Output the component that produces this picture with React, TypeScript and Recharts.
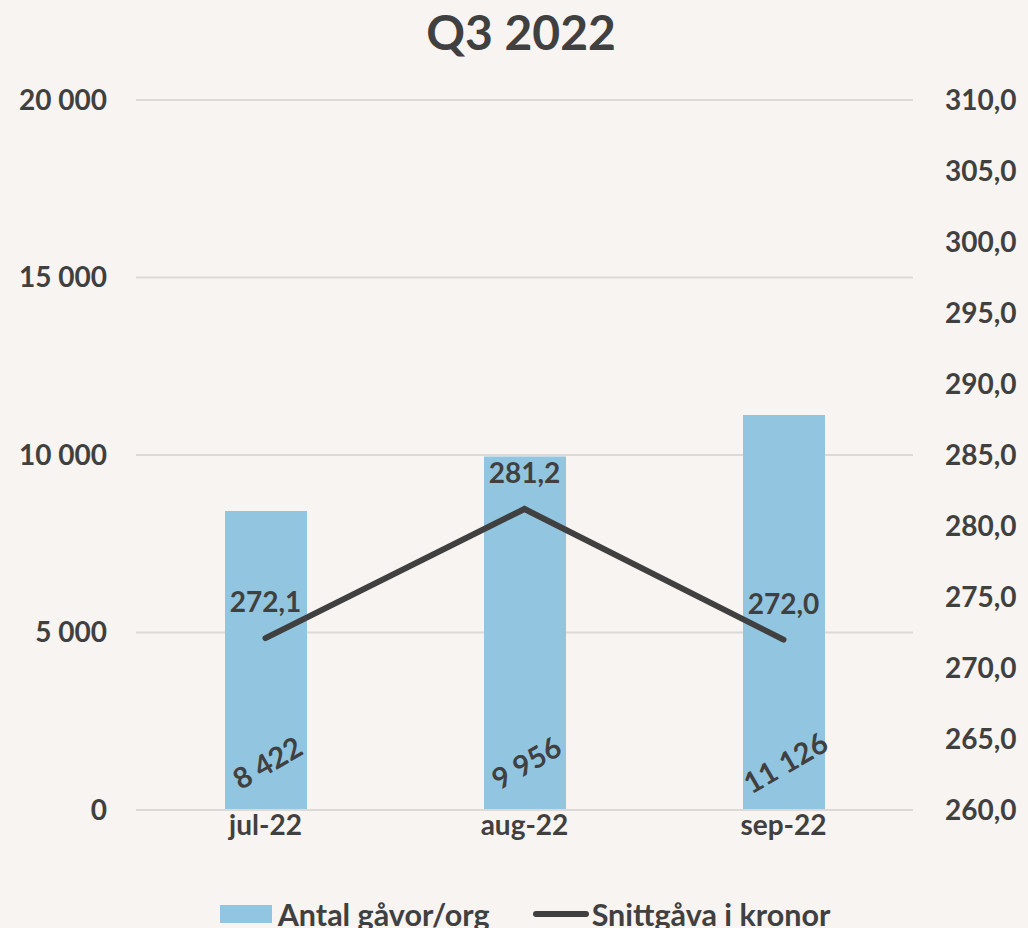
import { ComposedChart, Bar, Line, XAxis, YAxis, CartesianGrid, Legend, LabelList } from 'recharts'

const months = ['jul-22', 'aug-22', 'sep-22']
const antalGavor = [8422, 9956, 11126]
const snittgava = [272.1, 281.2, 272.0]
const leftTicks = [0, 5000, 10000, 15000, 20000]
const rightTicks = [260, 265, 270, 275, 280, 285, 290, 295, 300, 305, 310]

const BG = '#f7f4f1'
const BAR = '#92c5df'
const INK = '#404040'
const GRID = '#dcd9d6'
const FONT = 'Lato, "Open Sans", sans-serif'

const data = months.map((m, i) => ({ month: m, antal: antalGavor[i], snitt: snittgava[i] }))

const fmtThousands = (n: number) => String(Math.round(n)).replace(/\B(?=(\d{3})+(?!\d))/g, ' ')
const fmtDecimal = (n: number) => n.toFixed(1).replace('.', ',')

const BarValueLabel = (props: any) => {
  const { x, y, width, height, value } = props
  const cx = x + width / 2 + 1
  const cy = y + height - 48
  return (
    <text
      x={cx}
      y={cy}
      transform={`rotate(-30 ${cx} ${cy})`}
      textAnchor="middle"
      dominantBaseline="central"
      fill={INK}
      fontFamily={FONT}
      fontWeight={700}
      fontSize={29}
    >
      {fmtThousands(Number(value))}
    </text>
  )
}

const LineValueLabel = (props: any) => {
  const { x, y, value } = props
  return (
    <text
      x={x}
      y={y - 37}
      textAnchor="middle"
      dominantBaseline="central"
      fill={INK}
      fontFamily={FONT}
      fontWeight={700}
      fontSize={28}
    >
      {fmtDecimal(Number(value))}
    </text>
  )
}

const LegendContent = () => (
  <div
    style={{
      display: 'flex',
      justifyContent: 'center',
      alignItems: 'center',
      fontFamily: FONT,
      fontWeight: 700,
      fontSize: 30.5,
      color: INK,
      height: 40,
      paddingLeft: 22,
    }}
  >
    <span style={{ display: 'flex', alignItems: 'center' }}>
      <span style={{ width: 52, height: 18, background: BAR, display: 'inline-block' }} />
      <span style={{ marginLeft: 6 }}>Antal gåvor/org</span>
    </span>
    <span style={{ display: 'flex', alignItems: 'center', marginLeft: 43 }}>
      <span style={{ width: 56, height: 6, borderRadius: 3, background: INK, display: 'inline-block' }} />
      <span style={{ marginLeft: 3 }}>Snittgåva i kronor</span>
    </span>
  </div>
)

export default function App() {
  return (
    <div style={{ position: 'absolute', left: 0, top: 0, width: 1028, height: 928, background: BG, overflow: 'hidden' }}>
      <div
        style={{
          position: 'absolute',
          left: 0,
          top: 0,
          width: 1042,
          height: 64,
          lineHeight: '64px',
          textAlign: 'center',
          fontFamily: FONT,
          fontWeight: 700,
          fontSize: 48,
          color: INK,
        }}
      >
        Q3 2022
      </div>
      <ComposedChart width={1028} height={928} data={data} margin={{ top: 100, right: 0, left: 0, bottom: 0 }}>
        <CartesianGrid yAxisId="left" vertical={false} stroke={GRID} strokeWidth={2} />
        <XAxis
          xAxisId="bounds"
          type="number"
          domain={[0, 3]}
          ticks={[0, 1, 2, 3]}
          height={0}
          tick={false}
          axisLine={false}
          tickLine={{ stroke: GRID, strokeWidth: 2 }}
          tickSize={8}
        />
        <XAxis
          xAxisId="cat"
          dataKey="month"
          height={78}
          axisLine={{ stroke: GRID, strokeWidth: 2 }}
          tickLine={false}
          tickSize={0}
          tickMargin={5}
          tick={{ fill: INK, fontFamily: FONT, fontWeight: 700, fontSize: 28 }}
        />
        <YAxis
          yAxisId="left"
          orientation="left"
          width={136}
          domain={[0, 20000]}
          ticks={leftTicks}
          axisLine={false}
          tickLine={false}
          tickSize={0}
          tickMargin={29}
          tickFormatter={fmtThousands}
          tick={{ fill: INK, fontFamily: FONT, fontWeight: 700, fontSize: 28 }}
        />
        <YAxis
          yAxisId="right"
          orientation="right"
          width={115}
          domain={[260, 310]}
          ticks={rightTicks}
          axisLine={false}
          tickLine={false}
          tickSize={0}
          tickMargin={32}
          tickFormatter={fmtDecimal}
          tick={{ fill: INK, fontFamily: FONT, fontWeight: 700, fontSize: 28, textAnchor: 'start' }}
        />
        <Legend verticalAlign="bottom" height={40} content={<LegendContent />} wrapperStyle={{ bottom: -6 }} />
        <Bar
          xAxisId="cat"
          yAxisId="left"
          dataKey="antal"
          name="Antal gåvor/org"
          fill={BAR}
          barSize={82}
          isAnimationActive={false}
        >
          <LabelList dataKey="antal" content={<BarValueLabel />} />
        </Bar>
        <Line
          xAxisId="cat"
          yAxisId="right"
          dataKey="snitt"
          name="Snittgåva i kronor"
          stroke={INK}
          strokeWidth={6}
          strokeLinecap="round"
          dot={false}
          activeDot={false}
          isAnimationActive={false}
        >
          <LabelList dataKey="snitt" content={<LineValueLabel />} />
        </Line>
      </ComposedChart>
    </div>
  )
}
